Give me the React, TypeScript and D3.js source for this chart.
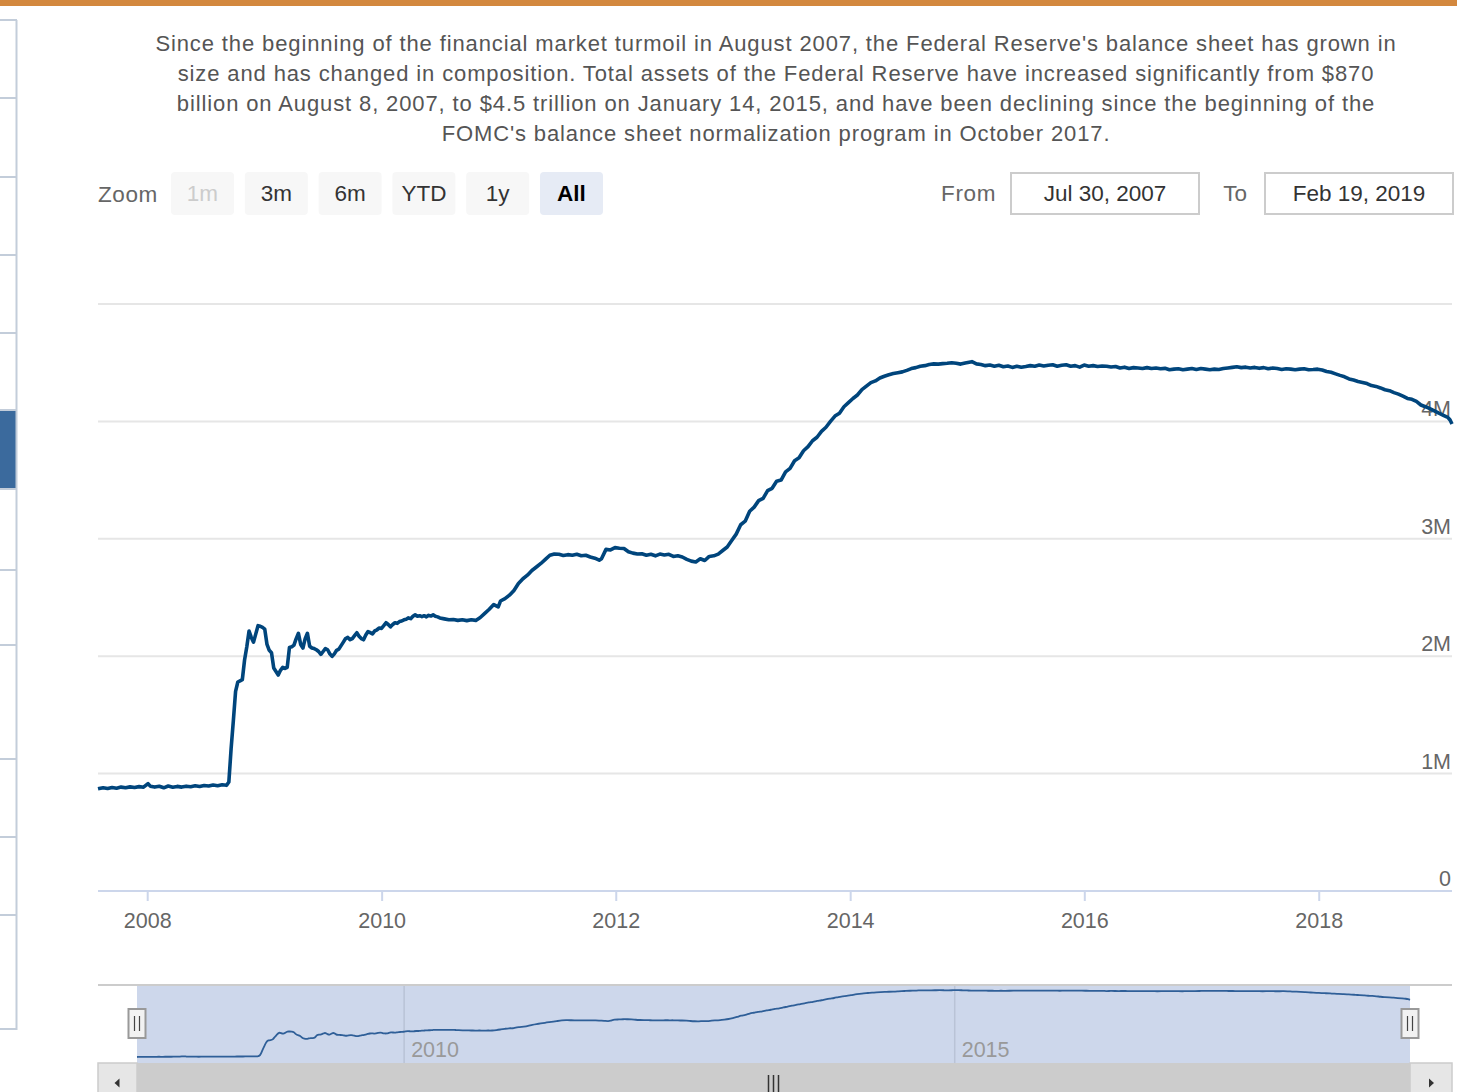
import React from "react";
import * as d3 from "d3";

// ---- text ----
const description = [
  "Since the beginning of the financial market turmoil in August 2007, the Federal Reserve's balance sheet has grown in",
  "size and has changed in composition. Total assets of the Federal Reserve have increased significantly from $870",
  "billion on August 8, 2007, to $4.5 trillion on January 14, 2015, and have been declining since the beginning of the",
  "FOMC's balance sheet normalization program in October 2017.",
];
const zoomButtons = ["1m", "3m", "6m", "YTD", "1y", "All"];
const rangeFrom = "Jul 30, 2007";
const rangeTo = "Feb 19, 2019";

// ---- axes ----
const yTicks = [0, 1000, 2000, 3000, 4000, 5000];
const yTickLabels = ["0", "1M", "2M", "3M", "4M", ""];
const xTickYears = [2008, 2010, 2012, 2014, 2016, 2018];
const navTickYears = [2010, 2015];

// ---- data: total assets, $ billions ----
const assetDates = [
  "2007-07-30", "2007-08-15", "2007-08-29", "2007-09-12", "2007-09-26", "2007-10-10", "2007-10-24", "2007-11-07",
  "2007-11-21", "2007-12-05", "2007-12-19", "2008-01-02", "2008-01-09", "2008-01-23", "2008-02-06", "2008-02-20",
  "2008-03-05", "2008-03-19", "2008-04-02", "2008-04-16", "2008-04-30", "2008-05-14", "2008-05-28", "2008-06-11",
  "2008-06-25", "2008-07-09", "2008-07-23", "2008-08-06", "2008-08-20", "2008-09-03", "2008-09-10", "2008-09-17",
  "2008-09-24", "2008-10-01", "2008-10-08", "2008-10-15", "2008-10-22", "2008-10-29", "2008-11-05", "2008-11-12",
  "2008-11-19", "2008-11-26", "2008-12-03", "2008-12-10", "2008-12-17", "2008-12-24", "2008-12-31", "2009-01-07",
  "2009-01-14", "2009-01-21", "2009-01-28", "2009-02-04", "2009-02-11", "2009-02-18", "2009-02-25", "2009-03-04",
  "2009-03-11", "2009-03-18", "2009-03-25", "2009-04-01", "2009-04-08", "2009-04-15", "2009-04-22", "2009-04-29",
  "2009-05-06", "2009-05-13", "2009-05-20", "2009-05-27", "2009-06-03", "2009-06-10", "2009-06-17", "2009-06-24",
  "2009-07-01", "2009-07-08", "2009-07-15", "2009-07-22", "2009-07-29", "2009-08-05", "2009-08-12", "2009-08-19",
  "2009-08-26", "2009-09-02", "2009-09-09", "2009-09-16", "2009-09-23", "2009-09-30", "2009-10-07", "2009-10-14",
  "2009-10-21", "2009-10-28", "2009-11-04", "2009-11-11", "2009-11-18", "2009-11-25", "2009-12-02", "2009-12-09",
  "2009-12-16", "2009-12-23", "2009-12-30", "2010-01-06", "2010-01-13", "2010-01-20", "2010-01-27", "2010-02-03",
  "2010-02-10", "2010-02-17", "2010-02-24", "2010-03-03", "2010-03-10", "2010-03-17", "2010-03-24", "2010-03-31",
  "2010-04-07", "2010-04-14", "2010-04-21", "2010-04-28", "2010-05-05", "2010-05-12", "2010-05-19", "2010-05-26",
  "2010-06-02", "2010-06-09", "2010-06-16", "2010-06-23", "2010-06-30", "2010-07-14", "2010-07-28", "2010-08-11",
  "2010-08-25", "2010-09-08", "2010-09-22", "2010-10-06", "2010-10-20", "2010-11-03", "2010-11-17", "2010-12-01",
  "2010-12-15", "2010-12-29", "2011-01-05", "2011-01-19", "2011-02-02", "2011-02-16", "2011-03-02", "2011-03-16",
  "2011-03-30", "2011-04-13", "2011-04-27", "2011-05-11", "2011-05-25", "2011-06-08", "2011-06-22", "2011-07-06",
  "2011-07-20", "2011-08-03", "2011-08-17", "2011-08-31", "2011-09-14", "2011-09-28", "2011-10-12", "2011-10-26",
  "2011-11-09", "2011-11-16", "2011-11-30", "2011-12-14", "2011-12-28", "2012-01-11", "2012-01-25", "2012-02-08",
  "2012-02-22", "2012-03-07", "2012-03-21", "2012-04-04", "2012-04-18", "2012-05-02", "2012-05-16", "2012-05-30",
  "2012-06-13", "2012-06-27", "2012-07-11", "2012-07-25", "2012-08-08", "2012-08-22", "2012-09-05", "2012-09-19",
  "2012-10-03", "2012-10-17", "2012-10-31", "2012-11-14", "2012-11-28", "2012-12-12", "2012-12-26", "2013-01-09",
  "2013-01-23", "2013-02-06", "2013-02-20", "2013-03-06", "2013-03-20", "2013-04-03", "2013-04-17", "2013-05-01",
  "2013-05-15", "2013-05-29", "2013-06-12", "2013-06-26", "2013-07-10", "2013-07-24", "2013-08-07", "2013-08-21",
  "2013-09-04", "2013-09-18", "2013-10-02", "2013-10-16", "2013-10-30", "2013-11-13", "2013-11-27", "2013-12-11",
  "2013-12-25", "2014-01-08", "2014-01-22", "2014-02-05", "2014-02-19", "2014-03-05", "2014-03-19", "2014-04-02",
  "2014-04-16", "2014-04-30", "2014-05-14", "2014-05-28", "2014-06-11", "2014-06-25", "2014-07-09", "2014-07-23",
  "2014-08-06", "2014-08-20", "2014-09-03", "2014-09-17", "2014-10-01", "2014-10-15", "2014-10-29", "2014-11-12",
  "2014-11-26", "2014-12-10", "2014-12-24", "2015-01-14", "2015-01-28", "2015-02-11", "2015-02-25", "2015-03-11",
  "2015-03-25", "2015-04-08", "2015-04-22", "2015-05-06", "2015-05-20", "2015-06-03", "2015-06-17", "2015-07-01",
  "2015-07-15", "2015-07-29", "2015-08-12", "2015-08-26", "2015-09-09", "2015-09-23", "2015-10-07", "2015-10-21",
  "2015-11-04", "2015-11-18", "2015-12-02", "2015-12-16", "2015-12-30", "2016-01-13", "2016-01-27", "2016-02-10",
  "2016-02-24", "2016-03-09", "2016-03-23", "2016-04-06", "2016-04-20", "2016-05-04", "2016-05-18", "2016-06-01",
  "2016-06-15", "2016-06-29", "2016-07-13", "2016-07-27", "2016-08-10", "2016-08-24", "2016-09-07", "2016-09-21",
  "2016-10-05", "2016-10-19", "2016-11-02", "2016-11-16", "2016-11-30", "2016-12-14", "2016-12-28", "2017-01-11",
  "2017-01-25", "2017-02-08", "2017-02-22", "2017-03-08", "2017-03-22", "2017-04-05", "2017-04-19", "2017-05-03",
  "2017-05-17", "2017-05-31", "2017-06-14", "2017-06-28", "2017-07-12", "2017-07-26", "2017-08-09", "2017-08-23",
  "2017-09-06", "2017-09-20", "2017-10-04", "2017-10-18", "2017-11-01", "2017-11-15", "2017-11-29", "2017-12-13",
  "2017-12-27", "2018-01-10", "2018-01-24", "2018-02-07", "2018-02-21", "2018-03-07", "2018-03-21", "2018-04-04",
  "2018-04-18", "2018-05-02", "2018-05-16", "2018-05-30", "2018-06-13", "2018-06-27", "2018-07-11", "2018-07-25",
  "2018-08-08", "2018-08-22", "2018-09-05", "2018-09-19", "2018-10-03", "2018-10-17", "2018-10-31", "2018-11-14",
  "2018-11-28", "2018-12-12", "2018-12-26", "2019-01-09", "2019-01-23", "2019-02-06", "2019-02-13", "2019-02-19",
];
const assetValues = [
  870, 880, 873, 882, 876, 885, 879, 887,
  882, 889, 884, 915, 893, 885, 892, 879,
  894, 884, 891, 885, 893, 888, 896, 890,
  899, 894, 903, 897, 905, 900, 928, 1210,
  1450, 1700, 1780, 1790, 1800, 1968, 2080, 2214,
  2160, 2120, 2190, 2260, 2255, 2245, 2230, 2100,
  2050, 2030, 1900, 1870, 1840, 1880, 1905, 1895,
  1905, 2075, 2080, 2095, 2150, 2195, 2100, 2070,
  2150, 2195, 2085, 2070, 2065, 2055, 2040, 2015,
  2040, 2065, 2055, 2020, 1998, 2020, 2050, 2060,
  2090, 2120, 2150, 2160, 2140, 2150, 2175, 2200,
  2170, 2150, 2140, 2180, 2210, 2200, 2190, 2215,
  2225, 2240, 2237, 2260, 2285, 2270, 2250, 2270,
  2285, 2280, 2295, 2300, 2310, 2315, 2326, 2320,
  2340, 2352, 2340, 2345, 2337, 2345, 2335, 2348,
  2342, 2352, 2340, 2335, 2326, 2318, 2310, 2312,
  2305, 2310, 2303, 2310, 2305, 2330, 2365, 2400,
  2440, 2420, 2470, 2490, 2520, 2560, 2620, 2660,
  2690, 2730, 2760, 2790, 2825, 2860, 2871, 2868,
  2858, 2865, 2860, 2868, 2855, 2860, 2845, 2835,
  2818, 2830, 2910, 2905, 2925, 2920, 2918, 2890,
  2878, 2870, 2873, 2860, 2868, 2855, 2870, 2862,
  2868, 2850, 2855, 2845, 2825, 2810, 2803, 2830,
  2815, 2850, 2855, 2870, 2900, 2930, 2985, 3040,
  3120, 3150, 3235, 3270, 3325, 3345, 3410, 3430,
  3490, 3500, 3570, 3600, 3665, 3690, 3750, 3785,
  3835, 3865, 3915, 3950, 4000, 4045, 4070, 4125,
  4160, 4195, 4225, 4270, 4300, 4330, 4345, 4370,
  4385, 4398, 4408, 4415, 4422, 4435, 4450, 4458,
  4470, 4475, 4485, 4490, 4488, 4492, 4495, 4500,
  4495, 4488, 4497, 4509, 4490, 4485, 4475, 4480,
  4470, 4478, 4465, 4472, 4460, 4470, 4462, 4468,
  4475, 4470, 4480, 4472, 4478, 4482, 4470, 4478,
  4482, 4470, 4475, 4462, 4480, 4470, 4475, 4468,
  4472, 4470, 4463, 4468, 4455, 4462, 4450, 4458,
  4455, 4450, 4458, 4450, 4455, 4448, 4452, 4440,
  4445, 4448, 4440, 4445, 4450, 4442, 4450, 4445,
  4440, 4445, 4442, 4450, 4455, 4460, 4465, 4458,
  4462, 4455, 4460, 4452, 4458, 4448, 4455, 4450,
  4442, 4448, 4445, 4440, 4445, 4448, 4440, 4442,
  4445, 4438, 4425, 4418, 4405, 4392, 4380, 4362,
  4352, 4340, 4332, 4322, 4305, 4298, 4285, 4270,
  4262, 4245, 4232, 4215, 4196, 4188, 4170, 4140,
  4125, 4108, 4090, 4070, 4052, 4035, 4012, 3978,
];

const FONT = "'Liberation Sans', Arial, Helvetica, sans-serif";
const W = 1457;
const H = 1092;

// sidebar dividers (page chrome)
const sidebarLines = [20, 98, 177, 255, 333, 410, 489, 570, 645, 759, 837, 915, 1029];

const parse = d3.timeParse("%Y-%m-%d");

export default function App() {
  const data = assetDates.map((d, i) => ({ date: parse(d) as Date, value: assetValues[i] }));

  const plot = { left: 98, right: 1452, top: 304, bottom: 891 };
  const x = d3
    .scaleTime()
    .domain([parse(assetDates[0]) as Date, parse(assetDates[assetDates.length - 1]) as Date])
    .range([plot.left, plot.right]);
  const y = d3.scaleLinear().domain([0, 5000]).range([plot.bottom, plot.top]);

  const line = d3
    .line<{ date: Date; value: number }>()
    .x((d) => x(d.date))
    .y((d) => y(d.value));

  // navigator (smoothed, like grouped data)
  const nav = { left: 137, right: 1410, top: 985, bottom: 1063 };
  const nx = d3.scaleTime().domain(x.domain()).range([nav.left, nav.right]);
  const ny = d3
    .scaleLinear()
    .domain(d3.extent(assetValues) as [number, number])
    .range([1057, 990]);
  const navLine = d3
    .line<{ date: Date; value: number }>()
    .x((d) => nx(d.date))
    .y((d) => ny(d.value))
    .curve(d3.curveBasis);

  const btnX0 = 171;
  const btnStep = 73.8;
  const btnW = 63;

  const handle = (cx: number) => (
    <g key={cx}>
      <rect x={cx - 8.5} y={1009} width={17} height={29} fill="#f2f2f2" stroke="#999" strokeWidth={2} />
      <line x1={cx - 2.5} x2={cx - 2.5} y1={1016} y2={1031} stroke="#444" strokeWidth={1.2} />
      <line x1={cx + 2.5} x2={cx + 2.5} y1={1016} y2={1031} stroke="#444" strokeWidth={1.2} />
    </g>
  );

  return (
    <svg
      width={W}
      height={H}
      style={{ position: "absolute", left: 0, top: 0, background: "#fff" }}
      fontFamily={FONT}
    >
      {/* top accent bar */}
      <rect x={0} y={0} width={W} height={6} fill="#d3883e" />

      {/* left sidebar */}
      <rect x={0} y={410} width={17} height={79} fill="#3b6a9d" />
      {sidebarLines.map((ly) => (
        <line key={ly} x1={0} x2={17} y1={ly} y2={ly} stroke="#c3cdda" strokeWidth={2} />
      ))}
      <line x1={16.5} x2={16.5} y1={20} y2={1030} stroke="#c3cdda" strokeWidth={2} />

      {/* description */}
      {description.map((t, i) => (
        <text key={i} x={776} y={51 + i * 30} textAnchor="middle" fontSize={22} letterSpacing={0.88} fill="#555">
          {t}
        </text>
      ))}

      {/* range selector */}
      <text x={98} y={202} fontSize={22.5} letterSpacing={0.6} fill="#666">
        Zoom
      </text>
      {zoomButtons.map((b, i) => {
        const bx = btnX0 + i * btnStep;
        const disabled = i === 0;
        const selected = b === "All";
        return (
          <g key={b}>
            <rect x={bx} y={172} width={btnW} height={43} rx={4} fill={selected ? "#e6ebf5" : "#f7f7f7"} />
            <text
              x={bx + btnW / 2}
              y={201}
              textAnchor="middle"
              fontSize={22.5}
              fontWeight={selected ? "bold" : "normal"}
              fill={disabled ? "#cccccc" : selected ? "#000" : "#333"}
            >
              {b}
            </text>
          </g>
        );
      })}
      <text x={996} y={201} textAnchor="end" fontSize={22.5} letterSpacing={0.6} fill="#666">
        From
      </text>
      <rect x={1011} y={173} width={188} height={41} fill="#fff" stroke="#ccc" strokeWidth={2} />
      <text x={1105} y={201} textAnchor="middle" fontSize={22.5} fill="#333">
        {rangeFrom}
      </text>
      <text x={1247} y={201} textAnchor="end" fontSize={22.5} fill="#666">
        To
      </text>
      <rect x={1265} y={173} width={188} height={41} fill="#fff" stroke="#ccc" strokeWidth={2} />
      <text x={1359} y={201} textAnchor="middle" fontSize={22.5} fill="#333">
        {rangeTo}
      </text>

      {/* grid + y labels */}
      {yTicks.map((t) =>
        t === 0 ? null : (
          <line key={t} x1={plot.left} x2={plot.right} y1={y(t)} y2={y(t)} stroke="#e6e6e6" strokeWidth={2} />
        )
      )}
      {yTicks.map((t, i) => (
        <text key={t} x={1451} y={y(t) - 5} textAnchor="end" fontSize={21.5} fill="#666">
          {yTickLabels[i]}
        </text>
      ))}

      {/* x axis */}
      <line x1={plot.left} x2={plot.right} y1={plot.bottom} y2={plot.bottom} stroke="#ccd6eb" strokeWidth={2} />
      {xTickYears.map((yr) => {
        const tx = x(new Date(yr, 0, 1));
        return (
          <g key={yr}>
            <line x1={tx} x2={tx} y1={plot.bottom} y2={plot.bottom + 10} stroke="#ccd6eb" strokeWidth={2} />
            <text x={tx} y={928} textAnchor="middle" fontSize={21.5} fill="#666">
              {yr}
            </text>
          </g>
        );
      })}

      {/* series */}
      <path d={line(data) || ""} fill="none" stroke="#00457c" strokeWidth={3.6} strokeLinejoin="round" />

      {/* navigator */}
      <rect x={nav.left} y={nav.top} width={nav.right - nav.left} height={nav.bottom - nav.top} fill="#cdd7eb" />
      {navTickYears.map((yr) => {
        const tx = nx(new Date(yr, 0, 1));
        return (
          <g key={yr}>
            <line x1={tx} x2={tx} y1={nav.top} y2={nav.bottom} stroke="#b9c3d6" strokeWidth={1.5} />
            <text x={tx + 7} y={1057} fontSize={21.5} fill="#999">
              {yr}
            </text>
          </g>
        );
      })}
      <path d={navLine(data) || ""} fill="none" stroke="#2f5f98" strokeWidth={1.8} />
      <line x1={plot.left} x2={plot.right} y1={nav.top} y2={nav.top} stroke="#cccccc" strokeWidth={2} />
      {handle(nav.left)}
      {handle(nav.right)}

      {/* scrollbar */}
      <rect x={nav.left} y={nav.bottom} width={nav.right - nav.left} height={H - nav.bottom} fill="#cccccc" />
      <rect x={plot.left} y={nav.bottom} width={nav.left - plot.left} height={H - nav.bottom + 2} fill="#e6e6e6" stroke="#cccccc" strokeWidth={1.5} />
      <rect x={nav.right} y={nav.bottom} width={plot.right - nav.right} height={H - nav.bottom + 2} fill="#e6e6e6" stroke="#cccccc" strokeWidth={1.5} />
      <path d={`M${(plot.left + nav.left) / 2 - 3},1083 L${(plot.left + nav.left) / 2 + 2},1078.5 L${(plot.left + nav.left) / 2 + 2},1087.5 Z`} fill="#333" />
      <path d={`M${(nav.right + plot.right) / 2 + 3},1083 L${(nav.right + plot.right) / 2 - 2},1078.5 L${(nav.right + plot.right) / 2 - 2},1087.5 Z`} fill="#333" />
      {[-5, 0, 5].map((dx) => (
        <line
          key={dx}
          x1={(nav.left + nav.right) / 2 + dx}
          x2={(nav.left + nav.right) / 2 + dx}
          y1={1075}
          y2={1092}
          stroke="#333"
          strokeWidth={1.5}
        />
      ))}
    </svg>
  );
}
